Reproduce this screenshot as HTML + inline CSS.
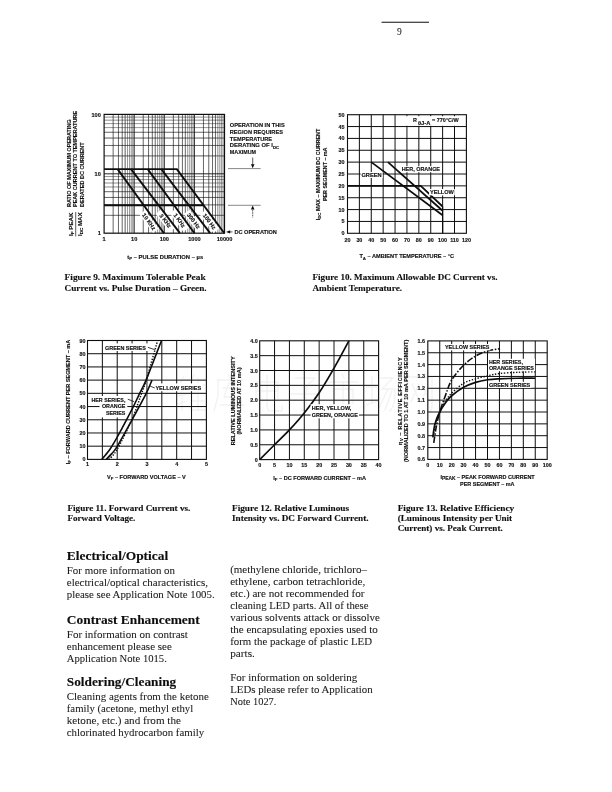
<!DOCTYPE html>
<html><head><meta charset="utf-8"><title>Page 9</title>
<style>
html,body{margin:0;padding:0;background:#fff;}
body{width:612px;height:792px;overflow:hidden;font-family:"Liberation Sans",sans-serif;}
svg{display:block;position:absolute;left:0;top:0;}
text{fill:#111;}
.sb{font-family:"Liberation Sans",sans-serif;font-weight:bold;stroke:#111;stroke-width:0.14;}
.sr{font-family:"Liberation Serif",serif;fill:#1c1c1c;stroke:#1c1c1c;stroke-width:0.07;}
.cb{font-family:"Liberation Serif",serif;font-weight:bold;stroke:#111;stroke-width:0.12;}
</style></head><body>
<svg width="612" height="792" viewBox="0 0 612 792">
<defs><filter id="soft" x="0" y="0" width="612" height="792" filterUnits="userSpaceOnUse"><feGaussianBlur stdDeviation="0.32"/></filter></defs>
<g filter="url(#soft)">
<line x1="381.60" y1="22.20" x2="429.00" y2="22.20" stroke="#111" stroke-width="1.1" />
<text class="sr" x="399.30" y="35.20" font-size="9.5" text-anchor="middle" >9</text>
<g id="wm" fill="none" stroke="#f2f2f2" stroke-width="1.3" stroke-linecap="round" stroke-linejoin="round">
<g transform="translate(176 374)">
<path d="M8 2 L3 12 L9 12 L3 22 L11 20"/>
<path d="M2 30 L11 27"/>
<path d="M6 22 L6 36"/>
<path d="M18 1 L13 12"/>
<path d="M15 9 L15 37"/>
<path d="M15 11 L29 11"/>
<path d="M15 19 L28 19"/>
<path d="M15 27 L28 27"/>
<path d="M15 36 L30 36"/>
<path d="M22 4 L22 36"/>
</g>
<g transform="translate(214 374)">
<path d="M14 0 L16 4"/>
<path d="M3 6 L29 6"/>
<path d="M4 6 L4 22 L0 37"/>
<path d="M9 14 L27 14"/>
<path d="M15 9 L10 23 L26 23"/>
<path d="M6 31 L30 31"/>
<path d="M18 17 L18 38"/>
</g>
<g transform="translate(252 374)">
<path d="M4 8 L4 26"/>
<path d="M4 8 L26 8 L26 26 L4 26"/>
<path d="M4 17 L26 17"/>
<path d="M15 1 L15 33 Q15 37 20 37 L30 37 L30 32"/>
</g>
<g transform="translate(290 374)">
<path d="M5 4 L25 4 L16 13"/>
<path d="M16 13 L16 34 Q16 38 10 36"/>
<path d="M1 20 L30 20"/>
</g>
<g transform="translate(328 374)">
<path d="M14 0 L16 4"/>
<path d="M1 8 L30 8"/>
<path d="M6 15 L6 31"/>
<path d="M6 15 L25 15 L25 29 Q25 32 21 31"/>
<path d="M15 8 L15 38"/>
</g>
<g transform="translate(366 374)">
<path d="M1 13 L11 13"/>
<path d="M6 3 L6 29"/>
<path d="M0 31 L12 27"/>
<path d="M14 4 L27 4 L16 15 L29 15 Q30 30 24 37"/>
<path d="M22 15 L13 34"/>
<path d="M26 17 L19 36"/>
</g>
<g transform="translate(404 374)">
<path d="M3 3 L3 38"/>
<path d="M3 3 L28 3 L28 34 Q28 38 23 37"/>
<path d="M8 10 L15 26"/>
<path d="M15 10 L7 28"/>
<path d="M18 10 L25 26"/>
<path d="M25 10 L17 28"/>
</g>
</g>
<g id="fig9">
<line x1="113.16" y1="114.40" x2="113.16" y2="233.20" stroke="#111" stroke-width="0.65" />
<line x1="118.46" y1="114.40" x2="118.46" y2="233.20" stroke="#111" stroke-width="0.65" />
<line x1="122.22" y1="114.40" x2="122.22" y2="233.20" stroke="#111" stroke-width="0.65" />
<line x1="125.14" y1="114.40" x2="125.14" y2="233.20" stroke="#111" stroke-width="0.65" />
<line x1="127.52" y1="114.40" x2="127.52" y2="233.20" stroke="#111" stroke-width="0.45" />
<line x1="129.54" y1="114.40" x2="129.54" y2="233.20" stroke="#111" stroke-width="0.45" />
<line x1="131.28" y1="114.40" x2="131.28" y2="233.20" stroke="#111" stroke-width="0.45" />
<line x1="132.82" y1="114.40" x2="132.82" y2="233.20" stroke="#111" stroke-width="0.45" />
<line x1="143.26" y1="114.40" x2="143.26" y2="233.20" stroke="#111" stroke-width="0.65" />
<line x1="148.56" y1="114.40" x2="148.56" y2="233.20" stroke="#111" stroke-width="0.65" />
<line x1="152.32" y1="114.40" x2="152.32" y2="233.20" stroke="#111" stroke-width="0.65" />
<line x1="155.24" y1="114.40" x2="155.24" y2="233.20" stroke="#111" stroke-width="0.65" />
<line x1="157.62" y1="114.40" x2="157.62" y2="233.20" stroke="#111" stroke-width="0.45" />
<line x1="159.64" y1="114.40" x2="159.64" y2="233.20" stroke="#111" stroke-width="0.45" />
<line x1="161.38" y1="114.40" x2="161.38" y2="233.20" stroke="#111" stroke-width="0.45" />
<line x1="162.92" y1="114.40" x2="162.92" y2="233.20" stroke="#111" stroke-width="0.45" />
<line x1="173.36" y1="114.40" x2="173.36" y2="233.20" stroke="#111" stroke-width="0.65" />
<line x1="178.66" y1="114.40" x2="178.66" y2="233.20" stroke="#111" stroke-width="0.65" />
<line x1="182.42" y1="114.40" x2="182.42" y2="233.20" stroke="#111" stroke-width="0.65" />
<line x1="185.34" y1="114.40" x2="185.34" y2="233.20" stroke="#111" stroke-width="0.65" />
<line x1="187.72" y1="114.40" x2="187.72" y2="233.20" stroke="#111" stroke-width="0.45" />
<line x1="189.74" y1="114.40" x2="189.74" y2="233.20" stroke="#111" stroke-width="0.45" />
<line x1="191.48" y1="114.40" x2="191.48" y2="233.20" stroke="#111" stroke-width="0.45" />
<line x1="193.02" y1="114.40" x2="193.02" y2="233.20" stroke="#111" stroke-width="0.45" />
<line x1="203.46" y1="114.40" x2="203.46" y2="233.20" stroke="#111" stroke-width="0.65" />
<line x1="208.76" y1="114.40" x2="208.76" y2="233.20" stroke="#111" stroke-width="0.65" />
<line x1="212.52" y1="114.40" x2="212.52" y2="233.20" stroke="#111" stroke-width="0.65" />
<line x1="215.44" y1="114.40" x2="215.44" y2="233.20" stroke="#111" stroke-width="0.65" />
<line x1="217.82" y1="114.40" x2="217.82" y2="233.20" stroke="#111" stroke-width="0.45" />
<line x1="219.84" y1="114.40" x2="219.84" y2="233.20" stroke="#111" stroke-width="0.45" />
<line x1="221.58" y1="114.40" x2="221.58" y2="233.20" stroke="#111" stroke-width="0.45" />
<line x1="223.12" y1="114.40" x2="223.12" y2="233.20" stroke="#111" stroke-width="0.45" />
<line x1="104.10" y1="215.32" x2="224.50" y2="215.32" stroke="#111" stroke-width="0.65" />
<line x1="104.10" y1="204.86" x2="224.50" y2="204.86" stroke="#111" stroke-width="0.65" />
<line x1="104.10" y1="197.44" x2="224.50" y2="197.44" stroke="#111" stroke-width="0.65" />
<line x1="104.10" y1="191.68" x2="224.50" y2="191.68" stroke="#111" stroke-width="0.65" />
<line x1="104.10" y1="186.98" x2="224.50" y2="186.98" stroke="#111" stroke-width="0.45" />
<line x1="104.10" y1="183.00" x2="224.50" y2="183.00" stroke="#111" stroke-width="0.45" />
<line x1="104.10" y1="179.56" x2="224.50" y2="179.56" stroke="#111" stroke-width="0.45" />
<line x1="104.10" y1="176.52" x2="224.50" y2="176.52" stroke="#111" stroke-width="0.45" />
<line x1="104.10" y1="155.92" x2="224.50" y2="155.92" stroke="#111" stroke-width="0.65" />
<line x1="104.10" y1="145.46" x2="224.50" y2="145.46" stroke="#111" stroke-width="0.65" />
<line x1="104.10" y1="138.04" x2="224.50" y2="138.04" stroke="#111" stroke-width="0.65" />
<line x1="104.10" y1="132.28" x2="224.50" y2="132.28" stroke="#111" stroke-width="0.65" />
<line x1="104.10" y1="127.58" x2="224.50" y2="127.58" stroke="#111" stroke-width="0.45" />
<line x1="104.10" y1="123.60" x2="224.50" y2="123.60" stroke="#111" stroke-width="0.45" />
<line x1="104.10" y1="120.16" x2="224.50" y2="120.16" stroke="#111" stroke-width="0.45" />
<line x1="104.10" y1="117.12" x2="224.50" y2="117.12" stroke="#111" stroke-width="0.45" />
<line x1="134.20" y1="114.40" x2="134.20" y2="233.20" stroke="#111" stroke-width="0.9" />
<line x1="164.30" y1="114.40" x2="164.30" y2="233.20" stroke="#111" stroke-width="0.9" />
<line x1="194.40" y1="114.40" x2="194.40" y2="233.20" stroke="#111" stroke-width="0.9" />
<line x1="104.10" y1="173.80" x2="224.50" y2="173.80" stroke="#111" stroke-width="0.9" />
<rect x="104.10" y="114.40" width="120.40" height="118.80" fill="none" stroke="#111" stroke-width="1.2"/>
<g transform="translate(149.00 221.60) rotate(54.1)">
<rect x="-11.50" y="-3.60" width="23.00" height="7.20" fill="#fff" stroke="none" stroke-width="0"/>
<text class="sb" x="0" y="2.0" font-size="5.7" text-anchor="middle" stroke="#111" stroke-width="0.2">10 KHz</text>
</g>
<g transform="translate(165.40 220.80) rotate(52.7)">
<rect x="-11.50" y="-3.60" width="23.00" height="7.20" fill="#fff" stroke="none" stroke-width="0"/>
<text class="sb" x="0" y="2.0" font-size="5.7" text-anchor="middle" stroke="#111" stroke-width="0.2">3 KHz</text>
</g>
<g transform="translate(179.50 220.40) rotate(53.9)">
<rect x="-11.50" y="-3.60" width="23.00" height="7.20" fill="#fff" stroke="none" stroke-width="0"/>
<text class="sb" x="0" y="2.0" font-size="5.7" text-anchor="middle" stroke="#111" stroke-width="0.2">1 KHz</text>
</g>
<g transform="translate(193.60 221.00) rotate(52.7)">
<rect x="-11.50" y="-3.60" width="23.00" height="7.20" fill="#fff" stroke="none" stroke-width="0"/>
<text class="sb" x="0" y="2.0" font-size="5.7" text-anchor="middle" stroke="#111" stroke-width="0.2">300 Hz</text>
</g>
<g transform="translate(209.50 221.50) rotate(53.4)">
<rect x="-11.50" y="-3.60" width="23.00" height="7.20" fill="#fff" stroke="none" stroke-width="0"/>
<text class="sb" x="0" y="2.0" font-size="5.7" text-anchor="middle" stroke="#111" stroke-width="0.2">100 Hz</text>
</g>
<line x1="117.60" y1="169.10" x2="164.00" y2="233.20" stroke="#111" stroke-width="1.9" />
<line x1="131.00" y1="169.10" x2="179.90" y2="233.20" stroke="#111" stroke-width="1.9" />
<line x1="147.70" y1="169.10" x2="194.50" y2="233.20" stroke="#111" stroke-width="1.9" />
<line x1="161.30" y1="169.10" x2="210.10" y2="233.20" stroke="#111" stroke-width="1.9" />
<line x1="176.80" y1="169.10" x2="224.40" y2="233.20" stroke="#111" stroke-width="1.9" />
<line x1="104.10" y1="169.10" x2="177.40" y2="169.10" stroke="#111" stroke-width="1.9" />
<line x1="104.10" y1="205.20" x2="203.61" y2="205.20" stroke="#111" stroke-width="1.9" />
<text class="sb" x="100.80" y="116.50" font-size="5.6" text-anchor="end" >100</text>
<text class="sb" x="100.80" y="175.90" font-size="5.6" text-anchor="end" >10</text>
<text class="sb" x="100.80" y="235.30" font-size="5.6" text-anchor="end" >1</text>
<text class="sb" x="104.10" y="241.20" font-size="5.6" text-anchor="middle" >1</text>
<text class="sb" x="134.20" y="241.20" font-size="5.6" text-anchor="middle" >10</text>
<text class="sb" x="164.30" y="241.20" font-size="5.6" text-anchor="middle" >100</text>
<text class="sb" x="194.40" y="241.20" font-size="5.6" text-anchor="middle" >1000</text>
<text class="sb" x="224.50" y="241.20" font-size="5.6" text-anchor="middle" >10000</text>
<text class="sb" x="127.2" y="258.6" font-size="5.6" textLength="76" lengthAdjust="spacingAndGlyphs">t<tspan font-size="4.2" dy="1.2">P</tspan><tspan dy="-1.2"> – PULSE DURATION – µs</tspan></text>
<text class="sb" x="70.90" y="207.00" font-size="5.6" textLength="87.60" lengthAdjust="spacingAndGlyphs" transform="rotate(-90 70.90 207.00)" >RATIO OF MAXIMUM OPERATING</text>
<text class="sb" x="77.10" y="207.00" font-size="5.6" textLength="96.10" lengthAdjust="spacingAndGlyphs" transform="rotate(-90 77.10 207.00)" >PEAK CURRENT TO TEMPERATURE</text>
<text class="sb" x="84.20" y="207.00" font-size="5.6" textLength="64.60" lengthAdjust="spacingAndGlyphs" transform="rotate(-90 84.20 207.00)" >DERATED DC CURRENT</text>
<text class="sb" x="73.2" y="236.0" font-size="5.6" transform="rotate(-90 73.2 236.0)" textLength="23.6" lengthAdjust="spacingAndGlyphs">I<tspan font-size="4.2" dy="1.1">F</tspan><tspan dy="-1.1"> PEAK</tspan></text>
<line x1="75.70" y1="212.00" x2="75.70" y2="236.40" stroke="#111" stroke-width="0.7" />
<text class="sb" x="81.6" y="236.0" font-size="5.6" transform="rotate(-90 81.6 236.0)" textLength="23.6" lengthAdjust="spacingAndGlyphs">I<tspan font-size="4.2" dy="1.1">DC</tspan><tspan dy="-1.1"> MAX</tspan></text>
<text class="sb" x="229.80" y="127.30" font-size="5.8" textLength="54.90" lengthAdjust="spacingAndGlyphs" stroke-width="0.28">OPERATION IN THIS</text>
<text class="sb" x="229.80" y="133.90" font-size="5.8" textLength="53.10" lengthAdjust="spacingAndGlyphs" stroke-width="0.28">REGION REQUIRES</text>
<text class="sb" x="229.80" y="140.50" font-size="5.8" textLength="42.30" lengthAdjust="spacingAndGlyphs" stroke-width="0.28">TEMPERATURE</text>
<text class="sb" x="229.8" y="147.10" font-size="5.8" stroke-width="0.28" textLength="49.5" lengthAdjust="spacingAndGlyphs">DERATING OF I<tspan font-size="4.4" dy="1.5">DC</tspan></text>
<text class="sb" x="229.80" y="153.70" font-size="5.8" textLength="26.30" lengthAdjust="spacingAndGlyphs" stroke-width="0.28">MAXIMUM</text>
<line x1="228.00" y1="168.60" x2="260.70" y2="168.60" stroke="#555" stroke-width="0.7" />
<line x1="252.70" y1="157.60" x2="252.70" y2="166.00" stroke="#111" stroke-width="0.7" />
<path d="M250.9 164.2 L254.5 164.2 L252.7 168.3 Z" fill="#111"/>
<line x1="228.00" y1="205.30" x2="260.70" y2="205.30" stroke="#555" stroke-width="0.7" />
<line x1="252.70" y1="207.50" x2="252.70" y2="217.50" stroke="#111" stroke-width="0.7" stroke-dasharray="1.6 0.8"/>
<path d="M250.9 209.6 L254.5 209.6 L252.7 205.6 Z" fill="#111"/>
<path d="M226.0 231.9 L230.2 230.3 L230.2 233.5 Z" fill="#111"/>
<line x1="229.50" y1="231.90" x2="232.50" y2="231.90" stroke="#111" stroke-width="0.7" />
<text class="sb" x="234.40" y="233.90" font-size="5.6" >DC OPERATION</text>
<text class="cb" x="64.60" y="280.10" font-size="8.2" textLength="141.00" lengthAdjust="spacingAndGlyphs" >Figure 9. Maximum Tolerable Peak</text>
<text class="cb" x="64.60" y="290.90" font-size="8.2" textLength="142.00" lengthAdjust="spacingAndGlyphs" >Current vs. Pulse Duration – Green.</text>
</g>
<g id="fig10">
<line x1="359.39" y1="114.70" x2="359.39" y2="233.30" stroke="#111" stroke-width="1.0" />
<line x1="347.50" y1="126.56" x2="466.40" y2="126.56" stroke="#111" stroke-width="1.0" />
<line x1="371.28" y1="114.70" x2="371.28" y2="233.30" stroke="#111" stroke-width="1.0" />
<line x1="347.50" y1="138.42" x2="466.40" y2="138.42" stroke="#111" stroke-width="1.0" />
<line x1="383.17" y1="114.70" x2="383.17" y2="233.30" stroke="#111" stroke-width="1.0" />
<line x1="347.50" y1="150.28" x2="466.40" y2="150.28" stroke="#111" stroke-width="1.0" />
<line x1="395.06" y1="114.70" x2="395.06" y2="233.30" stroke="#111" stroke-width="1.0" />
<line x1="347.50" y1="162.14" x2="466.40" y2="162.14" stroke="#111" stroke-width="1.0" />
<line x1="406.95" y1="114.70" x2="406.95" y2="233.30" stroke="#111" stroke-width="1.0" />
<line x1="347.50" y1="174.00" x2="466.40" y2="174.00" stroke="#111" stroke-width="1.0" />
<line x1="418.84" y1="114.70" x2="418.84" y2="233.30" stroke="#111" stroke-width="1.0" />
<line x1="347.50" y1="185.86" x2="466.40" y2="185.86" stroke="#111" stroke-width="1.0" />
<line x1="430.73" y1="114.70" x2="430.73" y2="233.30" stroke="#111" stroke-width="1.0" />
<line x1="347.50" y1="197.72" x2="466.40" y2="197.72" stroke="#111" stroke-width="1.0" />
<line x1="442.62" y1="114.70" x2="442.62" y2="233.30" stroke="#111" stroke-width="1.0" />
<line x1="347.50" y1="209.58" x2="466.40" y2="209.58" stroke="#111" stroke-width="1.0" />
<line x1="454.51" y1="114.70" x2="454.51" y2="233.30" stroke="#111" stroke-width="1.0" />
<line x1="347.50" y1="221.44" x2="466.40" y2="221.44" stroke="#111" stroke-width="1.0" />
<rect x="347.50" y="114.70" width="118.90" height="118.60" fill="none" stroke="#111" stroke-width="1.1"/>
<path d="M371.28 162.14 L442.62 215.27" fill="none" stroke="#111" stroke-width="1.75" />
<path d="M387.93 162.14 L442.62 210.77" fill="none" stroke="#111" stroke-width="1.75" />
<path d="M347.50 185.86 L420.74 185.86 L442.62 206.50" fill="none" stroke="#111" stroke-width="1.75" />
<line x1="442.62" y1="206.50" x2="442.62" y2="233.30" stroke="#111" stroke-width="1.3" />
<rect x="360.60" y="172.00" width="22.00" height="6.00" fill="#fff" stroke="none" stroke-width="0"/>
<text class="sb" x="361.40" y="177.00" font-size="5.4" textLength="20.30" lengthAdjust="spacingAndGlyphs" >GREEN</text>
<rect x="400.80" y="166.20" width="40.00" height="6.00" fill="#fff" stroke="none" stroke-width="0"/>
<text class="sb" x="401.70" y="171.20" font-size="5.4" textLength="38.30" lengthAdjust="spacingAndGlyphs" >HER, ORANGE</text>
<rect x="429.00" y="189.00" width="25.80" height="6.40" fill="#fff" stroke="none" stroke-width="0"/>
<text class="sb" x="430.00" y="194.20" font-size="5.4" textLength="23.90" lengthAdjust="spacingAndGlyphs" >YELLOW</text>
<rect x="406.00" y="116.20" width="58.50" height="9.60" fill="#fff" stroke="none" stroke-width="0"/>
<text class="sb" x="412.90" y="121.60" font-size="5.4" >R</text>
<text class="sb" x="418.00" y="124.60" font-size="5.0" textLength="12.40" lengthAdjust="spacingAndGlyphs" >θJ-A</text>
<text class="sb" x="432.00" y="121.60" font-size="5.4" textLength="26.80" lengthAdjust="spacingAndGlyphs" >= 770°C/W</text>
<text class="sb" x="344.60" y="235.30" font-size="5.4" text-anchor="end" >0</text>
<text class="sb" x="344.60" y="223.44" font-size="5.4" text-anchor="end" >5</text>
<text class="sb" x="344.60" y="211.58" font-size="5.4" text-anchor="end" >10</text>
<text class="sb" x="344.60" y="199.72" font-size="5.4" text-anchor="end" >15</text>
<text class="sb" x="344.60" y="187.86" font-size="5.4" text-anchor="end" >20</text>
<text class="sb" x="344.60" y="176.00" font-size="5.4" text-anchor="end" >25</text>
<text class="sb" x="344.60" y="164.14" font-size="5.4" text-anchor="end" >30</text>
<text class="sb" x="344.60" y="152.28" font-size="5.4" text-anchor="end" >35</text>
<text class="sb" x="344.60" y="140.42" font-size="5.4" text-anchor="end" >40</text>
<text class="sb" x="344.60" y="128.56" font-size="5.4" text-anchor="end" >45</text>
<text class="sb" x="344.60" y="116.70" font-size="5.4" text-anchor="end" >50</text>
<text class="sb" x="347.50" y="241.70" font-size="5.4" text-anchor="middle" >20</text>
<text class="sb" x="359.39" y="241.70" font-size="5.4" text-anchor="middle" >30</text>
<text class="sb" x="371.28" y="241.70" font-size="5.4" text-anchor="middle" >40</text>
<text class="sb" x="383.17" y="241.70" font-size="5.4" text-anchor="middle" >50</text>
<text class="sb" x="395.06" y="241.70" font-size="5.4" text-anchor="middle" >60</text>
<text class="sb" x="406.95" y="241.70" font-size="5.4" text-anchor="middle" >70</text>
<text class="sb" x="418.84" y="241.70" font-size="5.4" text-anchor="middle" >80</text>
<text class="sb" x="430.73" y="241.70" font-size="5.4" text-anchor="middle" >90</text>
<text class="sb" x="442.62" y="241.70" font-size="5.4" text-anchor="middle" >100</text>
<text class="sb" x="454.51" y="241.70" font-size="5.4" text-anchor="middle" >110</text>
<text class="sb" x="466.40" y="241.70" font-size="5.4" text-anchor="middle" >120</text>
<text class="sb" x="359.4" y="258.4" font-size="5.4" textLength="94.6" lengthAdjust="spacingAndGlyphs">T<tspan font-size="4.2" dy="1.2">A</tspan><tspan dy="-1.2"> – AMBIENT TEMPERATURE – °C</tspan></text>
<text class="sb" x="319.7" y="220.3" font-size="5.4" transform="rotate(-90 319.7 220.3)" textLength="91.7" lengthAdjust="spacingAndGlyphs">I<tspan font-size="4.2" dy="1.1">DC</tspan><tspan dy="-1.1">  MAX – MAXIMUM DC CURRENT</tspan></text>
<text class="sb" x="326.70" y="201.00" font-size="5.4" textLength="53.50" lengthAdjust="spacingAndGlyphs" transform="rotate(-90 326.70 201.00)" >PER SEGMENT – mA</text>
<text class="cb" x="312.50" y="280.40" font-size="8.2" textLength="185.00" lengthAdjust="spacingAndGlyphs" >Figure 10. Maximum Allowable DC Current vs.</text>
<text class="cb" x="312.50" y="290.90" font-size="8.2" textLength="89.50" lengthAdjust="spacingAndGlyphs" >Ambient Temperature.</text>
</g>
<g id="fig11">
<line x1="102.36" y1="340.50" x2="102.36" y2="459.40" stroke="#111" stroke-width="1.0" />
<line x1="117.22" y1="340.50" x2="117.22" y2="459.40" stroke="#111" stroke-width="1.0" />
<line x1="132.09" y1="340.50" x2="132.09" y2="459.40" stroke="#111" stroke-width="1.0" />
<line x1="146.95" y1="340.50" x2="146.95" y2="459.40" stroke="#111" stroke-width="1.0" />
<line x1="161.81" y1="340.50" x2="161.81" y2="459.40" stroke="#111" stroke-width="1.0" />
<line x1="176.68" y1="340.50" x2="176.68" y2="459.40" stroke="#111" stroke-width="1.0" />
<line x1="191.54" y1="340.50" x2="191.54" y2="459.40" stroke="#111" stroke-width="1.0" />
<line x1="87.50" y1="353.71" x2="206.40" y2="353.71" stroke="#111" stroke-width="1.0" />
<line x1="87.50" y1="366.92" x2="206.40" y2="366.92" stroke="#111" stroke-width="1.0" />
<line x1="87.50" y1="380.13" x2="206.40" y2="380.13" stroke="#111" stroke-width="1.0" />
<line x1="87.50" y1="393.34" x2="206.40" y2="393.34" stroke="#111" stroke-width="1.0" />
<line x1="87.50" y1="406.56" x2="206.40" y2="406.56" stroke="#111" stroke-width="1.0" />
<line x1="87.50" y1="419.77" x2="206.40" y2="419.77" stroke="#111" stroke-width="1.0" />
<line x1="87.50" y1="432.98" x2="206.40" y2="432.98" stroke="#111" stroke-width="1.0" />
<line x1="87.50" y1="446.19" x2="206.40" y2="446.19" stroke="#111" stroke-width="1.0" />
<rect x="87.50" y="340.50" width="118.90" height="118.90" fill="none" stroke="#111" stroke-width="1.1"/>
<rect x="104.00" y="343.40" width="44.40" height="7.60" fill="#fff" stroke="none" stroke-width="0"/>
<rect x="154.40" y="383.40" width="47.80" height="7.80" fill="#fff" stroke="none" stroke-width="0"/>
<rect x="89.80" y="396.00" width="37.50" height="7.50" fill="#fff" stroke="none" stroke-width="0"/>
<rect x="99.50" y="403.00" width="27.80" height="7.20" fill="#fff" stroke="none" stroke-width="0"/>
<rect x="101.00" y="409.80" width="26.30" height="7.60" fill="#fff" stroke="none" stroke-width="0"/>
<path d="M101.77 459.40 C103.11 457.75 107.22 453.19 109.79 449.49 C112.37 445.79 113.51 443.92 117.22 437.21 C120.94 430.49 128.47 416.24 132.09 409.20 C135.70 402.15 136.60 399.77 138.92 394.93 C141.25 390.09 142.29 389.20 146.06 380.13 C149.82 371.06 158.94 347.11 161.52 340.50" fill="none" stroke="#111" stroke-width="1.6" />
<path d="M106.23 459.40 C107.07 458.52 109.45 456.27 111.28 454.12 C113.11 451.96 113.76 452.18 117.22 446.45 C120.69 440.73 127.38 428.35 132.09 419.77 C136.79 411.18 142.14 401.54 145.46 394.93 C148.78 388.32 150.91 382.60 152.00 380.13" fill="none" stroke="#111" stroke-width="1.6" />
<path d="M108.90 459.40 C110.29 457.73 113.36 456.08 117.22 449.36 C121.09 442.64 128.12 428.18 132.09 419.11 C136.05 410.03 138.65 401.43 141.00 394.93 C143.36 388.43 143.43 389.20 146.21 380.13 C148.98 371.06 155.74 347.11 157.65 340.50" fill="none" stroke="#111" stroke-width="1.5" stroke-dasharray="1.3 1.5"/>
<text class="sb" x="105.00" y="349.80" font-size="5.4" textLength="40.80" lengthAdjust="spacingAndGlyphs" >GREEN SERIES</text>
<line x1="147.90" y1="347.30" x2="154.80" y2="349.70" stroke="#111" stroke-width="0.8" />
<text class="sb" x="155.40" y="389.50" font-size="5.4" textLength="45.80" lengthAdjust="spacingAndGlyphs" >YELLOW SERIES</text>
<line x1="149.90" y1="386.00" x2="154.80" y2="388.00" stroke="#111" stroke-width="0.8" />
<text class="sb" x="125.40" y="402.00" font-size="5.4" text-anchor="end" textLength="34.00" lengthAdjust="spacingAndGlyphs" >HER SERIES,</text>
<text class="sb" x="125.40" y="408.40" font-size="5.4" text-anchor="end" textLength="23.50" lengthAdjust="spacingAndGlyphs" >ORANGE</text>
<text class="sb" x="125.40" y="415.00" font-size="5.4" text-anchor="end" textLength="19.50" lengthAdjust="spacingAndGlyphs" >SERIES</text>
<line x1="127.80" y1="399.20" x2="134.20" y2="401.70" stroke="#111" stroke-width="0.8" />
<text class="sb" x="85.40" y="461.40" font-size="5.4" text-anchor="end" >0</text>
<text class="sb" x="85.40" y="448.19" font-size="5.4" text-anchor="end" >10</text>
<text class="sb" x="85.40" y="434.98" font-size="5.4" text-anchor="end" >20</text>
<text class="sb" x="85.40" y="421.77" font-size="5.4" text-anchor="end" >30</text>
<text class="sb" x="85.40" y="408.56" font-size="5.4" text-anchor="end" >40</text>
<text class="sb" x="85.40" y="395.34" font-size="5.4" text-anchor="end" >50</text>
<text class="sb" x="85.40" y="382.13" font-size="5.4" text-anchor="end" >60</text>
<text class="sb" x="85.40" y="368.92" font-size="5.4" text-anchor="end" >70</text>
<text class="sb" x="85.40" y="355.71" font-size="5.4" text-anchor="end" >80</text>
<text class="sb" x="85.40" y="342.50" font-size="5.4" text-anchor="end" >90</text>
<text class="sb" x="87.50" y="466.10" font-size="5.4" text-anchor="middle" >1</text>
<text class="sb" x="117.22" y="466.10" font-size="5.4" text-anchor="middle" >2</text>
<text class="sb" x="146.95" y="466.10" font-size="5.4" text-anchor="middle" >3</text>
<text class="sb" x="176.68" y="466.10" font-size="5.4" text-anchor="middle" >4</text>
<text class="sb" x="206.40" y="466.10" font-size="5.4" text-anchor="middle" >5</text>
<text class="sb" x="107.0" y="479.2" font-size="5.4" textLength="78.8" lengthAdjust="spacingAndGlyphs">V<tspan font-size="4.2" dy="1.2">F</tspan><tspan dy="-1.2"> – FORWARD VOLTAGE – V</tspan></text>
<text class="sb" x="69.8" y="464.2" font-size="5.4" transform="rotate(-90 69.8 464.2)" textLength="124.5" lengthAdjust="spacingAndGlyphs">I<tspan font-size="4.2" dy="1.1">F</tspan><tspan dy="-1.1"> – FORWARD CURRENT PER SEGMENT – mA</tspan></text>
<text class="cb" x="67.40" y="511.00" font-size="8.2" textLength="123.00" lengthAdjust="spacingAndGlyphs" >Figure 11. Forward Current vs.</text>
<text class="cb" x="67.40" y="520.70" font-size="8.2" textLength="68.00" lengthAdjust="spacingAndGlyphs" >Forward Voltage.</text>
</g>
<g id="fig12">
<line x1="274.56" y1="340.80" x2="274.56" y2="459.60" stroke="#111" stroke-width="1.0" />
<line x1="259.70" y1="355.65" x2="378.60" y2="355.65" stroke="#111" stroke-width="1.0" />
<line x1="289.43" y1="340.80" x2="289.43" y2="459.60" stroke="#111" stroke-width="1.0" />
<line x1="259.70" y1="370.50" x2="378.60" y2="370.50" stroke="#111" stroke-width="1.0" />
<line x1="304.29" y1="340.80" x2="304.29" y2="459.60" stroke="#111" stroke-width="1.0" />
<line x1="259.70" y1="385.35" x2="378.60" y2="385.35" stroke="#111" stroke-width="1.0" />
<line x1="319.15" y1="340.80" x2="319.15" y2="459.60" stroke="#111" stroke-width="1.0" />
<line x1="259.70" y1="400.20" x2="378.60" y2="400.20" stroke="#111" stroke-width="1.0" />
<line x1="334.01" y1="340.80" x2="334.01" y2="459.60" stroke="#111" stroke-width="1.0" />
<line x1="259.70" y1="415.05" x2="378.60" y2="415.05" stroke="#111" stroke-width="1.0" />
<line x1="348.88" y1="340.80" x2="348.88" y2="459.60" stroke="#111" stroke-width="1.0" />
<line x1="259.70" y1="429.90" x2="378.60" y2="429.90" stroke="#111" stroke-width="1.0" />
<line x1="363.74" y1="340.80" x2="363.74" y2="459.60" stroke="#111" stroke-width="1.0" />
<line x1="259.70" y1="444.75" x2="378.60" y2="444.75" stroke="#111" stroke-width="1.0" />
<rect x="259.70" y="340.80" width="118.90" height="118.80" fill="none" stroke="#111" stroke-width="1.1"/>
<path d="M259.70 459.60 C262.18 457.12 269.61 449.70 274.56 444.75 C279.52 439.80 284.47 435.20 289.43 429.90 C294.38 424.60 299.33 419.16 304.29 412.97 C309.24 406.78 314.20 400.25 319.15 392.78 C324.10 385.30 329.06 376.79 334.01 368.12 C338.97 359.46 346.40 345.35 348.88 340.80" fill="none" stroke="#111" stroke-width="1.7" />
<rect x="310.60" y="404.20" width="48.40" height="14.20" fill="#fff" stroke="none" stroke-width="0"/>
<text class="sb" x="311.70" y="409.80" font-size="5.4" textLength="39.70" lengthAdjust="spacingAndGlyphs" >HER, YELLOW,</text>
<text class="sb" x="311.70" y="417.00" font-size="5.4" textLength="46.10" lengthAdjust="spacingAndGlyphs" >GREEN, ORANGE</text>
<text class="sb" x="257.80" y="461.60" font-size="5.4" text-anchor="end" >0</text>
<text class="sb" x="257.80" y="446.75" font-size="5.4" text-anchor="end" >0.5</text>
<text class="sb" x="257.80" y="431.90" font-size="5.4" text-anchor="end" >1.0</text>
<text class="sb" x="257.80" y="417.05" font-size="5.4" text-anchor="end" >1.5</text>
<text class="sb" x="257.80" y="402.20" font-size="5.4" text-anchor="end" >2.0</text>
<text class="sb" x="257.80" y="387.35" font-size="5.4" text-anchor="end" >2.5</text>
<text class="sb" x="257.80" y="372.50" font-size="5.4" text-anchor="end" >3.0</text>
<text class="sb" x="257.80" y="357.65" font-size="5.4" text-anchor="end" >3.5</text>
<text class="sb" x="257.80" y="342.80" font-size="5.4" text-anchor="end" >4.0</text>
<text class="sb" x="259.70" y="466.70" font-size="5.4" text-anchor="middle" >0</text>
<text class="sb" x="274.56" y="466.70" font-size="5.4" text-anchor="middle" >5</text>
<text class="sb" x="289.43" y="466.70" font-size="5.4" text-anchor="middle" >10</text>
<text class="sb" x="304.29" y="466.70" font-size="5.4" text-anchor="middle" >15</text>
<text class="sb" x="319.15" y="466.70" font-size="5.4" text-anchor="middle" >20</text>
<text class="sb" x="334.01" y="466.70" font-size="5.4" text-anchor="middle" >25</text>
<text class="sb" x="348.88" y="466.70" font-size="5.4" text-anchor="middle" >30</text>
<text class="sb" x="363.74" y="466.70" font-size="5.4" text-anchor="middle" >35</text>
<text class="sb" x="378.60" y="466.70" font-size="5.4" text-anchor="middle" >40</text>
<text class="sb" x="273.3" y="480.0" font-size="5.4" textLength="92.7" lengthAdjust="spacingAndGlyphs">I<tspan font-size="4.2" dy="1.2">F</tspan><tspan dy="-1.2"> – DC FORWARD CURRENT – mA</tspan></text>
<text class="sb" x="235.30" y="445.30" font-size="5.4" textLength="88.90" lengthAdjust="spacingAndGlyphs" transform="rotate(-90 235.30 445.30)" >RELATIVE LUMINOUS INTENSITY</text>
<text class="sb" x="241.40" y="434.50" font-size="5.4" textLength="67.00" lengthAdjust="spacingAndGlyphs" transform="rotate(-90 241.40 434.50)" >(NORMALIZED AT 10 mA)</text>
<text class="cb" x="232.00" y="511.00" font-size="8.2" textLength="117.00" lengthAdjust="spacingAndGlyphs" >Figure 12. Relative Luminous</text>
<text class="cb" x="232.00" y="520.70" font-size="8.2" textLength="136.50" lengthAdjust="spacingAndGlyphs" >Intensity vs. DC Forward Current.</text>
</g>
<g id="fig13">
<line x1="439.74" y1="340.90" x2="439.74" y2="459.40" stroke="#111" stroke-width="1.0" />
<line x1="427.80" y1="352.75" x2="547.20" y2="352.75" stroke="#111" stroke-width="1.0" />
<line x1="451.68" y1="340.90" x2="451.68" y2="459.40" stroke="#111" stroke-width="1.0" />
<line x1="427.80" y1="364.60" x2="547.20" y2="364.60" stroke="#111" stroke-width="1.0" />
<line x1="463.62" y1="340.90" x2="463.62" y2="459.40" stroke="#111" stroke-width="1.0" />
<line x1="427.80" y1="376.45" x2="547.20" y2="376.45" stroke="#111" stroke-width="1.0" />
<line x1="475.56" y1="340.90" x2="475.56" y2="459.40" stroke="#111" stroke-width="1.0" />
<line x1="427.80" y1="388.30" x2="547.20" y2="388.30" stroke="#111" stroke-width="1.0" />
<line x1="487.50" y1="340.90" x2="487.50" y2="459.40" stroke="#111" stroke-width="1.0" />
<line x1="427.80" y1="400.15" x2="547.20" y2="400.15" stroke="#111" stroke-width="1.0" />
<line x1="499.44" y1="340.90" x2="499.44" y2="459.40" stroke="#111" stroke-width="1.0" />
<line x1="427.80" y1="412.00" x2="547.20" y2="412.00" stroke="#111" stroke-width="1.0" />
<line x1="511.38" y1="340.90" x2="511.38" y2="459.40" stroke="#111" stroke-width="1.0" />
<line x1="427.80" y1="423.85" x2="547.20" y2="423.85" stroke="#111" stroke-width="1.0" />
<line x1="523.32" y1="340.90" x2="523.32" y2="459.40" stroke="#111" stroke-width="1.0" />
<line x1="427.80" y1="435.70" x2="547.20" y2="435.70" stroke="#111" stroke-width="1.0" />
<line x1="535.26" y1="340.90" x2="535.26" y2="459.40" stroke="#111" stroke-width="1.0" />
<line x1="427.80" y1="447.55" x2="547.20" y2="447.55" stroke="#111" stroke-width="1.0" />
<rect x="427.80" y="340.90" width="119.40" height="118.50" fill="none" stroke="#111" stroke-width="1.1"/>
<path d="M433.77 442.81 C434.17 440.24 435.16 432.54 436.16 427.40 C437.15 422.27 438.15 417.43 439.74 412.00 C441.33 406.57 443.72 400.15 445.71 394.82 C447.70 389.49 448.69 384.94 451.68 380.00 C454.67 375.07 459.64 369.18 463.62 365.19 C467.60 361.20 471.58 358.44 475.56 356.07 C479.54 353.70 483.52 352.18 487.50 350.97 C491.48 349.77 497.45 349.19 499.44 348.84" fill="none" stroke="#111" stroke-width="1.6" stroke-dasharray="6.5 1.6 1.5 1.6"/>
<path d="M433.77 433.33 C434.17 431.35 435.16 425.03 436.16 421.48 C437.15 417.92 438.15 415.46 439.74 412.00 C441.33 408.54 443.72 403.86 445.71 400.74 C447.70 397.62 448.69 396.20 451.68 393.28 C454.67 390.35 459.64 385.61 463.62 383.20 C467.60 380.79 471.58 380.04 475.56 378.82 C479.54 377.60 483.52 376.75 487.50 375.86 C491.48 374.97 494.47 374.08 499.44 373.49 C504.42 372.90 511.38 372.60 517.35 372.30 C523.32 372.01 532.27 371.81 535.26 371.71" fill="none" stroke="#111" stroke-width="1.4" stroke-dasharray="1.4 1.6"/>
<path d="M432.81 437.48 C433.17 435.21 433.81 428.10 434.96 423.85 C436.12 419.60 437.95 415.56 439.74 412.00 C441.53 408.44 443.72 405.23 445.71 402.52 C447.70 399.81 448.69 398.29 451.68 395.77 C454.67 393.24 459.64 389.58 463.62 387.35 C467.60 385.12 471.58 383.64 475.56 382.38 C479.54 381.11 483.52 380.36 487.50 379.77 C491.48 379.18 494.47 379.08 499.44 378.82 C504.42 378.56 511.38 378.33 517.35 378.23 C523.32 378.13 532.27 378.23 535.26 378.23" fill="none" stroke="#111" stroke-width="1.7" />
<rect x="444.00" y="344.00" width="46.40" height="6.40" fill="#fff" stroke="none" stroke-width="0"/>
<text class="sb" x="445.00" y="349.20" font-size="5.4" textLength="44.40" lengthAdjust="spacingAndGlyphs" >YELLOW SERIES</text>
<rect x="488.00" y="358.80" width="47.00" height="12.40" fill="#fff" stroke="none" stroke-width="0"/>
<text class="sb" x="488.90" y="364.00" font-size="5.4" textLength="34.00" lengthAdjust="spacingAndGlyphs" >HER SERIES,</text>
<text class="sb" x="488.90" y="369.60" font-size="5.4" textLength="45.00" lengthAdjust="spacingAndGlyphs" >ORANGE SERIES</text>
<rect x="488.00" y="381.80" width="43.30" height="6.20" fill="#fff" stroke="none" stroke-width="0"/>
<text class="sb" x="488.90" y="387.00" font-size="5.4" textLength="41.40" lengthAdjust="spacingAndGlyphs" >GREEN SERIES</text>
<text class="sb" x="425.00" y="461.40" font-size="5.4" text-anchor="end" >0.6</text>
<text class="sb" x="425.00" y="449.55" font-size="5.4" text-anchor="end" >0.7</text>
<text class="sb" x="425.00" y="437.70" font-size="5.4" text-anchor="end" >0.8</text>
<text class="sb" x="425.00" y="425.85" font-size="5.4" text-anchor="end" >0.9</text>
<text class="sb" x="425.00" y="414.00" font-size="5.4" text-anchor="end" >1.0</text>
<text class="sb" x="425.00" y="402.15" font-size="5.4" text-anchor="end" >1.1</text>
<text class="sb" x="425.00" y="390.30" font-size="5.4" text-anchor="end" >1.2</text>
<text class="sb" x="425.00" y="378.45" font-size="5.4" text-anchor="end" >1.3</text>
<text class="sb" x="425.00" y="366.60" font-size="5.4" text-anchor="end" >1.4</text>
<text class="sb" x="425.00" y="354.75" font-size="5.4" text-anchor="end" >1.5</text>
<text class="sb" x="425.00" y="342.90" font-size="5.4" text-anchor="end" >1.6</text>
<text class="sb" x="427.80" y="467.30" font-size="5.4" text-anchor="middle" >0</text>
<text class="sb" x="439.74" y="467.30" font-size="5.4" text-anchor="middle" >10</text>
<text class="sb" x="451.68" y="467.30" font-size="5.4" text-anchor="middle" >20</text>
<text class="sb" x="463.62" y="467.30" font-size="5.4" text-anchor="middle" >30</text>
<text class="sb" x="475.56" y="467.30" font-size="5.4" text-anchor="middle" >40</text>
<text class="sb" x="487.50" y="467.30" font-size="5.4" text-anchor="middle" >50</text>
<text class="sb" x="499.44" y="467.30" font-size="5.4" text-anchor="middle" >60</text>
<text class="sb" x="511.38" y="467.30" font-size="5.4" text-anchor="middle" >70</text>
<text class="sb" x="523.32" y="467.30" font-size="5.4" text-anchor="middle" >80</text>
<text class="sb" x="535.26" y="467.30" font-size="5.4" text-anchor="middle" >90</text>
<text class="sb" x="547.20" y="467.30" font-size="5.4" text-anchor="middle" >100</text>
<text class="sb" x="440.5" y="478.8" font-size="5.4" textLength="94.2" lengthAdjust="spacingAndGlyphs">I<tspan font-size="4.8" dy="1.3">PEAK</tspan><tspan dy="-1.3"> – PEAK FORWARD CURRENT</tspan></text>
<text class="sb" x="487.30" y="485.60" font-size="5.4" text-anchor="middle" textLength="54.50" lengthAdjust="spacingAndGlyphs" >PER SEGMENT – mA</text>
<text class="sb" x="402.0" y="445.0" font-size="5.4" transform="rotate(-90 402.0 445.0)" textLength="87.5" lengthAdjust="spacing">η<tspan font-size="4.2" dy="1.1">V</tspan><tspan dy="-1.1"> – RELATIVE EFFICIENCY</tspan></text>
<text class="sb" x="407.60" y="462.00" font-size="5.4" textLength="122.30" lengthAdjust="spacingAndGlyphs" transform="rotate(-90 407.60 462.00)" >(NORMALIZED TO 1 AT 10 mA PER SEGMENT)</text>
<text class="cb" x="397.70" y="511.00" font-size="8.2" textLength="116.50" lengthAdjust="spacingAndGlyphs" >Figure 13. Relative Efficiency</text>
<text class="cb" x="397.70" y="520.70" font-size="8.2" textLength="114.50" lengthAdjust="spacingAndGlyphs" >(Luminous Intensity per Unit</text>
<text class="cb" x="397.70" y="531.20" font-size="8.2" textLength="105.00" lengthAdjust="spacingAndGlyphs" >Current) vs. Peak Current.</text>
</g>
<g id="body">
<text class="cb" x="66.80" y="560.00" font-size="12.4" textLength="101.40" lengthAdjust="spacingAndGlyphs" >Electrical/Optical</text>
<text class="sr" x="66.80" y="573.60" font-size="9.6" textLength="108.20" lengthAdjust="spacingAndGlyphs" >For more information on</text>
<text class="sr" x="66.80" y="585.60" font-size="9.6" textLength="141.10" lengthAdjust="spacingAndGlyphs" >electrical/optical characteristics,</text>
<text class="sr" x="66.80" y="597.60" font-size="9.6" textLength="147.90" lengthAdjust="spacingAndGlyphs" >please see Application Note 1005.</text>
<text class="cb" x="66.80" y="623.80" font-size="12.4" textLength="132.90" lengthAdjust="spacingAndGlyphs" >Contrast Enhancement</text>
<text class="sr" x="66.80" y="637.60" font-size="9.6" textLength="121.10" lengthAdjust="spacingAndGlyphs" >For information on contrast</text>
<text class="sr" x="66.80" y="649.60" font-size="9.6" textLength="105.00" lengthAdjust="spacingAndGlyphs" >enhancement please see</text>
<text class="sr" x="66.80" y="661.60" font-size="9.6" textLength="100.00" lengthAdjust="spacingAndGlyphs" >Application Note 1015.</text>
<text class="cb" x="66.80" y="686.20" font-size="12.4" textLength="109.40" lengthAdjust="spacingAndGlyphs" >Soldering/Cleaning</text>
<text class="sr" x="66.80" y="700.00" font-size="9.6" textLength="142.00" lengthAdjust="spacingAndGlyphs" >Cleaning agents from the ketone</text>
<text class="sr" x="66.80" y="712.00" font-size="9.6" textLength="126.40" lengthAdjust="spacingAndGlyphs" >family (acetone, methyl ethyl</text>
<text class="sr" x="66.80" y="724.00" font-size="9.6" textLength="114.10" lengthAdjust="spacingAndGlyphs" >ketone, etc.) and from the</text>
<text class="sr" x="66.80" y="736.00" font-size="9.6" textLength="137.30" lengthAdjust="spacingAndGlyphs" >chlorinated hydrocarbon family</text>
<text class="sr" x="230.20" y="572.80" font-size="9.6" textLength="136.80" lengthAdjust="spacingAndGlyphs" >(methylene chloride, trichloro–</text>
<text class="sr" x="230.20" y="584.80" font-size="9.6" textLength="135.00" lengthAdjust="spacingAndGlyphs" >ethylene, carbon tetrachloride,</text>
<text class="sr" x="230.20" y="596.80" font-size="9.6" textLength="134.40" lengthAdjust="spacingAndGlyphs" >etc.) are not recommended for</text>
<text class="sr" x="230.20" y="608.80" font-size="9.6" textLength="138.30" lengthAdjust="spacingAndGlyphs" >cleaning LED parts. All of these</text>
<text class="sr" x="230.20" y="620.80" font-size="9.6" textLength="149.70" lengthAdjust="spacingAndGlyphs" >various solvents attack or dissolve</text>
<text class="sr" x="230.20" y="632.80" font-size="9.6" textLength="147.70" lengthAdjust="spacingAndGlyphs" >the encapsulating epoxies used to</text>
<text class="sr" x="230.20" y="644.80" font-size="9.6" textLength="141.80" lengthAdjust="spacingAndGlyphs" >form the package of plastic LED</text>
<text class="sr" x="230.20" y="656.80" font-size="9.6" textLength="24.70" lengthAdjust="spacingAndGlyphs" >parts.</text>
<text class="sr" x="230.20" y="680.90" font-size="9.6" textLength="127.10" lengthAdjust="spacingAndGlyphs" >For information on soldering</text>
<text class="sr" x="230.20" y="692.90" font-size="9.6" textLength="142.40" lengthAdjust="spacingAndGlyphs" >LEDs please refer to Application</text>
<text class="sr" x="230.20" y="704.90" font-size="9.6" textLength="46.20" lengthAdjust="spacingAndGlyphs" >Note 1027.</text>
</g>
</g>
</svg>
</body></html>
